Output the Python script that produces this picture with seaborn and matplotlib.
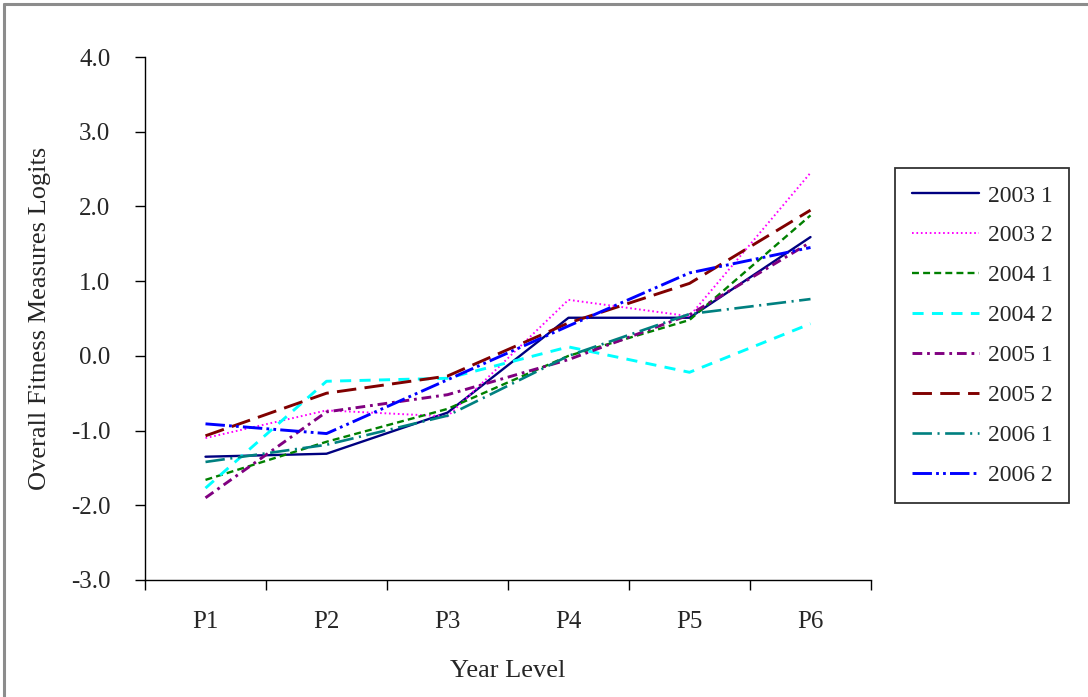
import matplotlib
matplotlib.use("Agg")
import matplotlib.pyplot as plt
import seaborn as sns
import pandas as pd
from matplotlib.lines import Line2D

categories = ["P1", "P2", "P3", "P4", "P5", "P6"]
series_names = ["2003 1", "2003 2", "2004 1", "2004 2", "2005 1", "2005 2", "2006 1", "2006 2"]
s2003_1 = [-1.35, -1.31, -0.76, 0.51, 0.51, 1.59]
s2003_2 = [-1.10, -0.73, -0.81, 0.75, 0.53, 2.45]
s2004_1 = [-1.66, -1.15, -0.71, 0.00, 0.48, 1.88]
s2004_2 = [-1.77, -0.34, -0.30, 0.12, -0.22, 0.43]
s2005_1 = [-1.90, -0.75, -0.52, -0.05, 0.55, 1.52]
s2005_2 = [-1.07, -0.50, -0.27, 0.44, 0.97, 1.95]
s2006_1 = [-1.42, -1.19, -0.80, 0.00, 0.56, 0.76]
s2006_2 = [-0.91, -1.04, -0.32, 0.40, 1.11, 1.45]
all_values = [s2003_1, s2003_2, s2004_1, s2004_2, s2005_1, s2005_2, s2006_1, s2006_2]
y_ticks = [-3.0, -2.0, -1.0, 0.0, 1.0, 2.0, 3.0, 4.0]

colors = ["#000080", "#FF00FF", "#008000", "#00FFFF", "#800080", "#800000", "#008080", "#0000FF"]
styles = [
    "-",
    (0, (1.2, 2.0)),
    (0, (5, 3)),
    (0, (8, 6)),
    (0, (7, 3.5, 2, 3.5)),
    (0, (14, 6)),
    (0, (14, 4, 1.5, 4)),
    (0, (14, 3, 2, 3, 2, 3)),
]
widths = [1.7, 1.4, 1.7, 2.1, 2.1, 2.1, 1.9, 2.1]

sns.set_theme(style="white")
plt.rcParams["font.family"] = ["Liberation Serif", "DejaVu Serif"]
plt.rcParams["lines.scale_dashes"] = False

rows = []
for name, vals in zip(series_names, all_values):
    for i, (c, v) in enumerate(zip(categories, vals)):
        rows.append({"series": name, "level": c, "pos": i, "value": v})
df = pd.DataFrame(rows)

fig = plt.figure(figsize=(10.88, 6.97), dpi=100)
ax = fig.add_axes([145 / 1088, 1 - 580 / 697, (871 - 145) / 1088, (580 - 57) / 697])

handles = []
for name, col, ls, lw in zip(series_names, colors, styles, widths):
    sub = df[df["series"] == name]
    sns.lineplot(data=sub, x="pos", y="value", color=col, linestyle=ls, linewidth=lw,
                 ax=ax, legend=False, errorbar=None)
    handles.append(Line2D([0], [0], color=col, linestyle=ls, linewidth=lw, label=name))

ax.set_xlim(-0.5, len(categories) - 0.5)
ax.set_ylim(-3.0, 4.0)
ax.set_xticks([i - 0.5 for i in range(len(categories) + 1)])
ax.set_xticklabels([])
ax.set_xticks(range(len(categories)), minor=True)
ax.set_xticklabels(categories, minor=True, fontsize=18)
ax.tick_params(axis="x", which="minor", length=0, pad=22)
ax.tick_params(axis="x", which="major", direction="out", length=7, width=1, color="black", bottom=True)
ax.set_yticks(y_ticks)
ax.set_yticklabels([f"{t:.1f}" for t in y_ticks], fontsize=18)
ax.tick_params(axis="y", direction="out", length=7, width=1, color="black", left=True, pad=18)

for side in ["top", "right"]:
    ax.spines[side].set_visible(False)
for side in ["left", "bottom"]:
    ax.spines[side].set_color("black")
    ax.spines[side].set_linewidth(1.0)

ax.set_xlabel("Year Level", fontsize=19, labelpad=20)
ax.set_ylabel("Overall Fitness Measures Logits", fontsize=19, labelpad=14)

leg = fig.legend(handles=handles, loc="upper left",
                 bbox_to_anchor=(895 / 1088, 1 - 168 / 697),
                 frameon=True, fancybox=False, edgecolor="black", fontsize=17,
                 handlelength=2.85, handletextpad=0.35, labelspacing=0.78,
                 borderpad=0.72, borderaxespad=0)
leg.get_frame().set_linewidth(1.3)

# outer gray frame (top and left edges visible)
fig.add_artist(Line2D([4 / 1088, 4 / 1088], [0, 1 - 4 / 697], transform=fig.transFigure,
                      color="#8c8c8c", linewidth=2.2))
fig.add_artist(Line2D([4 / 1088, 1], [1 - 4 / 697, 1 - 4 / 697], transform=fig.transFigure,
                      color="#8c8c8c", linewidth=2.2))

fig.savefig("out.png", dpi=100)
